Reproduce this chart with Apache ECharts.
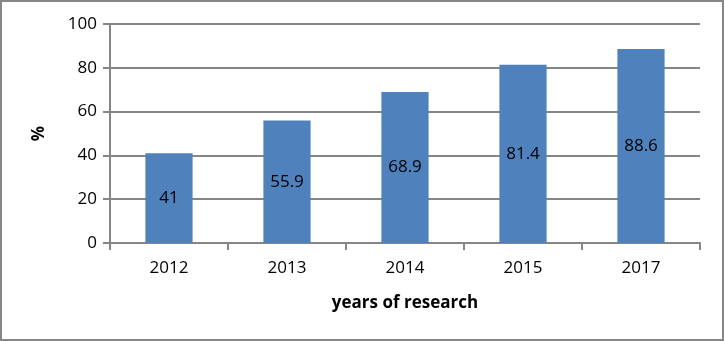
<!DOCTYPE html>
<html>
<head>
<meta charset="utf-8">
<script src="https://cdn.jsdelivr.net/npm/echarts@6/dist/echarts.min.js"></script>
<style>
  html, body { margin: 0; padding: 0; background: #fff; }
  #chart { width: 724px; height: 341px; box-sizing: border-box; border: 2px solid #868686; }
</style>
</head>
<body>
<div id="chart"></div>
<script>
// years on the x axis
const years = ["2012", "2013", "2014", "2015", "2017"];
// percent values per year
const values = [41, 55.9, 68.9, 81.4, 88.6];

const myChart = echarts.init(document.getElementById("chart"));
const axisColor = "#868686";
const font = "'Open Sans', Lato, sans-serif";

const option = {
  animation: false,
  grid: { left: 108, right: 22, top: 22, bottom: 96 },
  xAxis: {
    type: "category",
    data: years,
    name: "years of research",
    nameLocation: "middle",
    nameGap: 52,
    nameTextStyle: { fontFamily: font, fontSize: 17, fontWeight: "bold", color: "#000" },
    axisLine: { lineStyle: { color: axisColor, width: 2 } },
    axisTick: { show: true, length: 7, lineStyle: { color: axisColor, width: 2 } },
    axisLabel: { fontFamily: font, fontSize: 17, color: "#000", margin: 17 },
  },
  yAxis: {
    type: "value",
    min: 0,
    max: 100,
    interval: 20,
    name: "%",
    nameLocation: "middle",
    nameGap: 62,
    nameTextStyle: { fontFamily: font, fontSize: 17, fontWeight: "bold", color: "#000" },
    axisLine: { show: true, lineStyle: { color: axisColor, width: 2 } },
    axisTick: { show: true, length: 7, lineStyle: { color: axisColor, width: 2 } },
    splitLine: { lineStyle: { color: axisColor, width: 2 } },
    axisLabel: { fontFamily: font, fontSize: 17, color: "#000", margin: 13 },
  },
  series: [
    {
      type: "bar",
      data: values,
      barWidth: "40%",
      itemStyle: { color: "#4F81BD" },
      label: {
        show: true,
        position: "inside",
        fontFamily: font,
        fontSize: 17,
        color: "#000",
      },
    },
  ],
};

myChart.setOption(option);
</script>
</body>
</html>
